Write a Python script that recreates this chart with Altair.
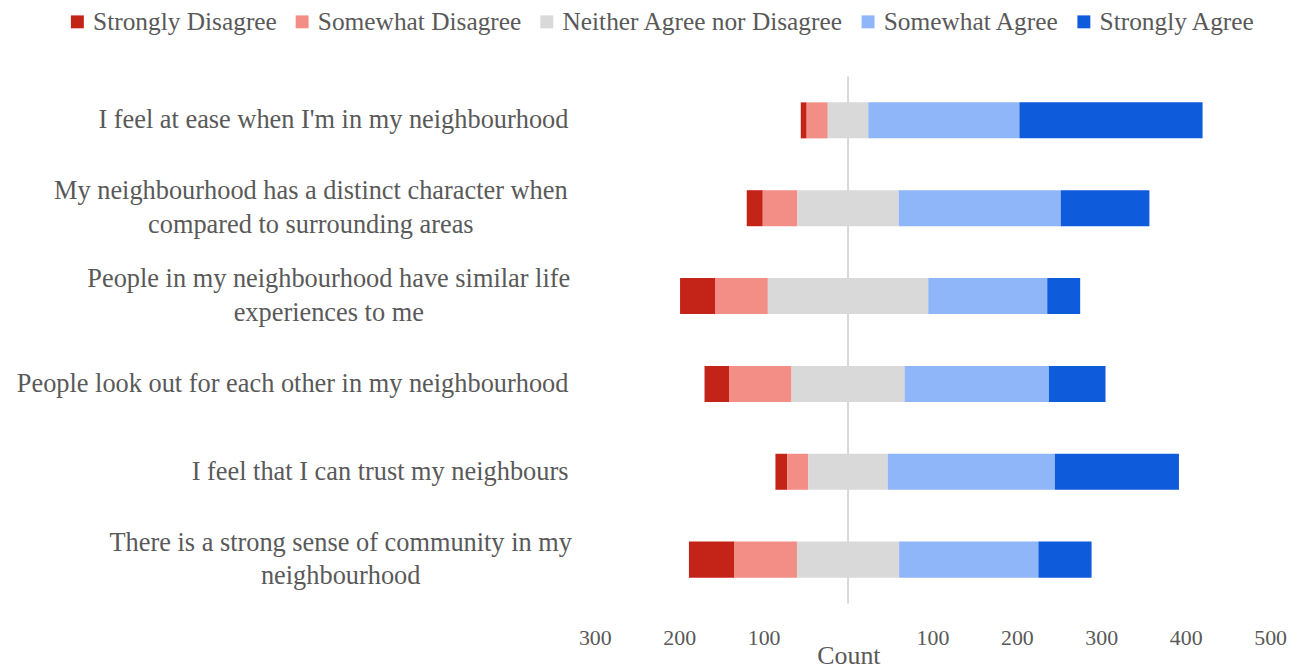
import altair as alt
import pandas as pd

questions = [
    "I feel at ease when I'm in my neighbourhood",
    "My neighbourhood has a distinct character when|compared to surrounding areas",
    "People in my neighbourhood have similar life|experiences to me",
    "People look out for each other in my neighbourhood",
    "I feel that I can trust my neighbours",
    "There is a strong sense of community in my|neighbourhood",
]
categories = ["Strongly Disagree", "Somewhat Disagree", "Neither Agree nor Disagree",
              "Somewhat Agree", "Strongly Agree"]
colors = ["#c42318", "#f28e85", "#d9d9d9", "#8fb6f9", "#0e5bdc"]

strongly_disagree = [7, 19, 42, 29, 14, 54]
somewhat_disagree = [25, 41, 62, 74, 25, 74]
neutral = [48, 120, 190, 134, 94, 121]
somewhat_agree = [179, 192, 141, 171, 198, 165]
strongly_agree = [217, 105, 39, 67, 147, 63]

x_ticks = [-300, -200, -100, 0, 100, 200, 300, 400, 500]

series = [strongly_disagree, somewhat_disagree, neutral, somewhat_agree, strongly_agree]
rows = []
for i, q in enumerate(questions):
    start = -(strongly_disagree[i] + somewhat_disagree[i] + neutral[i] / 2)
    for cat, vals in zip(categories, series):
        rows.append({"question": q, "category": cat, "start": start, "end": start + vals[i], "count": vals[i]})
        start += vals[i]
df = pd.DataFrame(rows)

FONT = "Liberation Serif"
GREY = "#595959"

multi = "indexof(datum.value, '|') >= 0"

bars = alt.Chart(df).mark_bar().encode(
    x=alt.X("start:Q",
            scale=alt.Scale(domain=[-300, 500], nice=False, zero=False),
            axis=alt.Axis(values=x_ticks, title="Count", grid=False, ticks=False, domain=False,
                          labelExpr="datum.value == 0 ? '' : abs(datum.value)",
                          labelFont=FONT, labelFontSize=22, labelColor=GREY, labelPadding=24,
                          labelFlush=False,
                          titleFont=FONT, titleFontSize=26, titleColor=GREY, titleFontWeight="normal",
                          titleX=255, titleY=60, titleAlign="center", titleBaseline="alphabetic")),
    x2="end:Q",
    y=alt.Y("question:N", sort=questions,
            scale=alt.Scale(paddingInner=0.59, paddingOuter=0.295),
            axis=alt.Axis(title=None, ticks=False, domain=False, grid=False,
                          labelExpr="split(datum.label, '|')",
                          labelFont=FONT, labelFontSize=26.5, labelColor=GREY, labelLineHeight=34,
                          labelLimit=0,
                          labelAlign={"condition": {"test": multi, "value": "center"}, "value": "right"},
                          labelOffset={"condition": {"test": multi, "value": -17}, "value": 0},
                          labelPadding={"condition": [
                              {"test": "indexof(datum.value, 'distinct') >= 0", "value": 286},
                              {"test": "indexof(datum.value, 'similar') >= 0", "value": 268},
                              {"test": "indexof(datum.value, 'strong sense') >= 0", "value": 256},
                          ], "value": 27})),
    color=alt.Color("category:N", scale=alt.Scale(domain=categories, range=colors),
                    legend=alt.Legend(title=None, orient="none", direction="horizontal",
                                      legendX=-533, legendY=-68, symbolType="square",
                                      symbolSize=169, symbolStrokeWidth=0,
                                      labelFont=FONT, labelFontSize=25.5, labelColor=GREY,
                                      columnPadding=12, labelOffset=3, labelLimit=0)),
)

zero = alt.Chart(pd.DataFrame({"x": [0]})).mark_rule(color="#d9d9d9", strokeWidth=2).encode(x="x:Q")

chart = alt.layer(zero, bars).properties(
    width=679, height=530,
    autosize=alt.AutoSizeParams(type="none"),
    padding={"left": 590, "top": 67, "right": 20, "bottom": 64},
).configure_view(stroke=None)

chart.save("out.html", embed_options={"renderer": "svg", "actions": False})
